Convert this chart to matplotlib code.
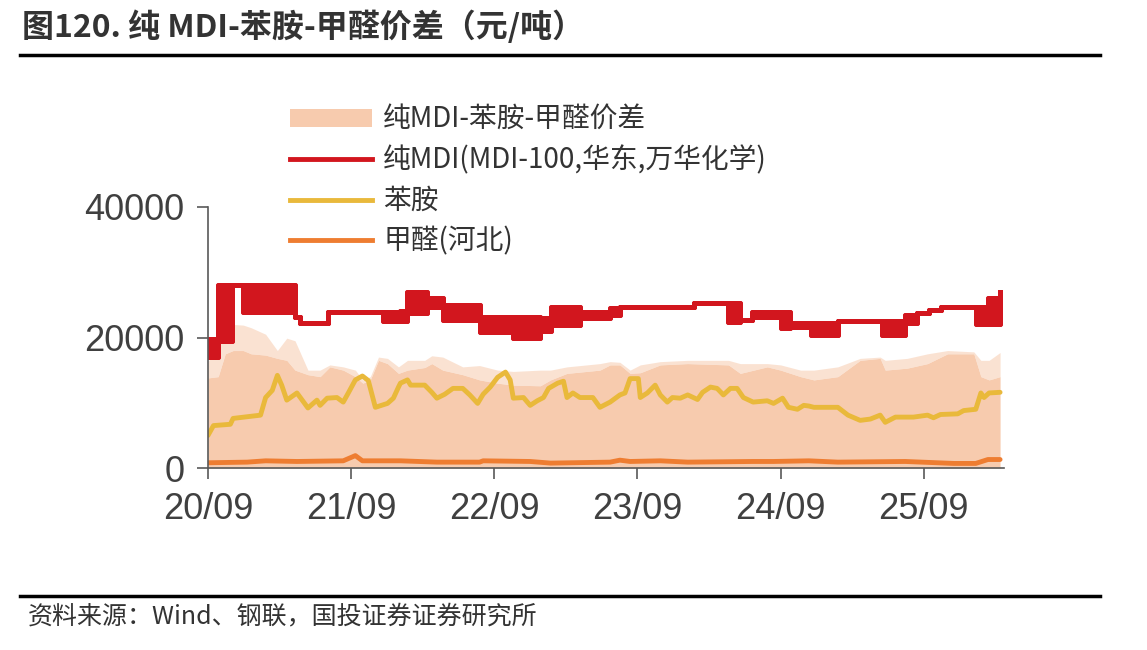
import matplotlib
matplotlib.use("Agg")
import matplotlib.pyplot as plt
import matplotlib.dates as mdates
from matplotlib.lines import Line2D
from matplotlib.patches import Patch
import pandas as pd

plt.rcParams['font.family'] = ['Noto Sans CJK SC', 'DejaVu Sans']

# 纯MDI (MDI-100, 华东, 万华化学): step segments, hi/lo envelope where price jumps back and forth
red_dates = ['2020-09-01', '2020-09-27', '2020-11-02', '2020-11-30', '2021-04-11', '2021-04-24',
             '2021-07-05', '2021-11-22', '2022-01-05', '2022-01-23', '2022-03-13', '2022-04-23',
             '2022-07-26', '2022-10-20', '2022-12-28', '2023-01-23', '2023-04-08', '2023-06-24',
             '2023-07-19', '2024-01-23', '2024-04-21', '2024-05-21', '2024-06-21', '2024-09-01',
             '2024-09-26', '2024-11-17', '2025-01-25', '2025-05-18', '2025-07-16', '2025-08-16',
             '2025-09-15', '2025-10-14', '2026-01-12', '2026-02-12', '2026-03-15']
red_hi = [19800, 28000, 28000, 28000, 23200, 22200, 23900, 23900, 24000, 27000, 26000, 25000,
          23100, 23100, 23000, 24700, 23900, 24500, 24700, 25300, 25300, 22700, 23900, 23900,
          22200, 22200, 22500, 22500, 23400, 23700, 24200, 24700, 24700, 26000, 27000]
red_lo = [17000, 19500, 28000, 23900, 23200, 22200, 23900, 22500, 22500, 23700, 24700, 22700,
          20800, 19900, 21000, 21900, 23000, 23400, 24700, 25300, 22300, 22700, 23100, 21500,
          21600, 20400, 22500, 20400, 22200, 23700, 24200, 24700, 22000, 22000, 27000]

# 苯胺
ani_dates = ['2020-09-01', '2020-09-15', '2020-10-28', '2020-11-04', '2021-01-13', '2021-01-26',
             '2021-02-12', '2021-02-25', '2021-03-08', '2021-03-21', '2021-04-16', '2021-05-14',
             '2021-06-06', '2021-06-14', '2021-07-02', '2021-07-27', '2021-08-12', '2021-08-25',
             '2021-09-12', '2021-09-30', '2021-10-15', '2021-11-02', '2021-12-03', '2021-12-18',
             '2021-12-31', '2022-01-05', '2022-01-23', '2022-01-31', '2022-03-08', '2022-03-26',
             '2022-04-08', '2022-04-28', '2022-05-19', '2022-06-13', '2022-07-01', '2022-07-21',
             '2022-08-04', '2022-08-22', '2022-09-10', '2022-09-30', '2022-10-12', '2022-10-20',
             '2022-11-15', '2022-12-02', '2022-12-20', '2023-01-05', '2023-01-18', '2023-02-10',
             '2023-02-25', '2023-03-06', '2023-03-21', '2023-04-08', '2023-05-11', '2023-05-29',
             '2023-06-24', '2023-07-19', '2023-08-01', '2023-08-14', '2023-09-04', '2023-09-09',
             '2023-09-27', '2023-10-17', '2023-10-30', '2023-11-17', '2023-11-30', '2023-12-20',
             '2024-01-08', '2024-02-02', '2024-02-15', '2024-03-06', '2024-03-23', '2024-04-08',
             '2024-04-26', '2024-05-13', '2024-05-29', '2024-06-23', '2024-07-29', '2024-08-14',
             '2024-09-06', '2024-09-21', '2024-10-14', '2024-10-30', '2024-11-12', '2024-11-25',
             '2025-01-25', '2025-02-20', '2025-03-23', '2025-04-18', '2025-05-13', '2025-05-26',
             '2025-06-21', '2025-08-06', '2025-09-11', '2025-09-26', '2025-10-14', '2025-11-27',
             '2025-12-12', '2026-01-12', '2026-01-25', '2026-02-02', '2026-02-15', '2026-03-15']
ani_vals = [5000, 6500, 6700, 7600, 8100, 10800, 11900, 14200, 12700, 10400, 11500, 9200,
            10400, 9600, 10700, 10800, 10100, 11500, 13500, 14100, 13400, 9300, 9900, 10700,
            12400, 13000, 13500, 12700, 12700, 11600, 10700, 11300, 12200, 12200, 11200, 9900,
            11300, 12400, 13900, 14700, 13500, 10700, 10800, 9600, 10300, 10800, 12200, 13000,
            13300, 10800, 11500, 10800, 10800, 9300, 10100, 11200, 11500, 13700, 13700, 10800,
            11500, 12700, 11200, 10100, 10800, 10700, 11200, 10500, 11600, 12400, 12200, 11200,
            12200, 12200, 10800, 10100, 10300, 9900, 10700, 9300, 9000, 9600, 9500, 9300,
            9300, 8100, 7300, 7500, 8100, 7000, 7800, 7800, 8100, 7700, 8200, 8300,
            8800, 9000, 11500, 10800, 11500, 11600]

# 甲醛(河北)
fa_dates = ['2020-09-01', '2020-12-10', '2021-01-26', '2021-04-16', '2021-08-12', '2021-09-12',
            '2021-09-30', '2022-01-05', '2022-04-08', '2022-07-26', '2022-08-04', '2022-12-02',
            '2023-01-23', '2023-06-24', '2023-07-19', '2023-08-14', '2023-10-30', '2024-01-08',
            '2024-06-23', '2024-08-14', '2024-11-12', '2025-01-25', '2025-07-16', '2025-11-17',
            '2026-01-12', '2026-02-12', '2026-03-15']
fa_vals = [800, 900, 1100, 1000, 1100, 1900, 1100, 1100, 900, 900, 1100, 1000,
           750, 900, 1200, 1000, 1100, 900, 1000, 1000, 1100, 900, 1000, 700,
           700, 1300, 1300]

# 纯MDI-苯胺-甲醛价差: dense body and top of the daily spikes
spr_dates = ['2020-09-01', '2020-09-27', '2020-10-15', '2020-11-04', '2020-11-30', '2020-12-20',
             '2021-01-26', '2021-02-25', '2021-03-21', '2021-04-11', '2021-05-14', '2021-06-14',
             '2021-07-09', '2021-08-12', '2021-09-12', '2021-10-01', '2021-10-20', '2021-11-10',
             '2021-12-03', '2021-12-31', '2022-01-23', '2022-03-08', '2022-03-26', '2022-04-23',
             '2022-06-13', '2022-07-26', '2022-09-10', '2022-10-20', '2022-12-28', '2023-01-23',
             '2023-03-06', '2023-05-29', '2023-06-24', '2023-07-19', '2023-08-14', '2023-09-09',
             '2023-10-30', '2024-01-08', '2024-04-21', '2024-05-21', '2024-07-29', '2024-09-01',
             '2024-10-22', '2024-11-25', '2025-01-25', '2025-03-23', '2025-05-13', '2025-05-26',
             '2025-07-21', '2025-09-11', '2025-11-01', '2026-01-07', '2026-01-25', '2026-02-15',
             '2026-03-15']
spr_body = [13800, 14000, 17500, 18000, 18000, 17500, 17300, 16800, 16500, 15000, 14300, 14000,
            15500, 15000, 14000, 13000, 13500, 16500, 16000, 14500, 15000, 15400, 16000, 15000,
            14300, 13500, 13000, 12700, 12600, 13500, 14500, 15000, 15800, 15800, 14500, 14600,
            15800, 16000, 15800, 14500, 15500, 15000, 14000, 13500, 14000, 16500, 16800, 15000,
            15300, 16000, 17500, 17500, 14000, 13500, 14000]
spr_spike = [16300, 19000, 21000, 22000, 21900, 21500, 20500, 18000, 19900, 19500, 15000, 15000,
             15800, 15500, 15000, 13500, 14000, 17000, 16800, 15500, 16500, 16500, 17200, 17000,
             15500, 15700, 15000, 14800, 15000, 15000, 15500, 16000, 16300, 16200, 15000, 15800,
             16300, 16500, 16500, 16000, 16000, 15800, 15000, 15000, 15500, 16800, 17000, 16500,
             16800, 17500, 18000, 17800, 16500, 16500, 17700]

tick_dates = ['2020-09-01', '2021-09-01', '2022-09-01', '2023-09-01', '2024-09-01', '2025-09-01']
y_ticks = [0, 20000, 40000]

c_red = '#D2161E'
c_yel = '#E9B93B'
c_ora = '#EE7D31'
c_fill = '#F7CBAE'
c_txt = '#333333'

fig = plt.figure(figsize=(11.47, 6.5), dpi=100)
ax = fig.add_axes([208 / 1147, 1 - 468 / 650, (1004 - 208) / 1147, (468 - 207) / 650])

sd = pd.to_datetime(spr_dates)
ax.fill_between(sd, 0, spr_body, color=c_fill, lw=0)
ax.fill_between(sd, spr_body, spr_spike, color=c_fill, alpha=0.55, lw=0)

ax.plot(pd.to_datetime(fa_dates), fa_vals, color=c_ora, lw=3.5, solid_capstyle='round')
ax.plot(pd.to_datetime(ani_dates), ani_vals, color=c_yel, lw=3.5, solid_capstyle='round')

rd = pd.to_datetime(red_dates)
ax.fill_between(rd, red_lo, red_hi, step='post', color=c_red, lw=3.6)
ax.step(rd, red_hi, where='post', color=c_red, lw=3.6)
ax.step(rd, red_lo, where='post', color=c_red, lw=3.6)

ax.set_ylim(0, 40000)
ax.set_xlim(pd.Timestamp('2020-09-01'), pd.Timestamp('2026-03-25'))
ax.set_yticks(y_ticks)
ax.set_xticks(pd.to_datetime(tick_dates))
ax.xaxis.set_major_formatter(mdates.DateFormatter('%y/%m'))

for s in ['top', 'right']:
    ax.spines[s].set_visible(False)
for s in ['left', 'bottom']:
    ax.spines[s].set_color('#595959')
    ax.spines[s].set_linewidth(1.2)
ax.tick_params(axis='both', length=8, width=1.2, color='#595959', labelcolor='#404040',
               labelsize=26)
ax.tick_params(axis='x', pad=9)
ax.tick_params(axis='y', pad=9)
for lab in ax.get_xticklabels() + ax.get_yticklabels():
    lab.set_family(['Liberation Sans', 'DejaVu Sans'])

handles = [Patch(facecolor=c_fill, edgecolor='none'),
           Line2D([], [], color=c_red, lw=3.5),
           Line2D([], [], color=c_yel, lw=3.5),
           Line2D([], [], color=c_ora, lw=3.5)]
labels = ['纯MDI-苯胺-甲醛价差', '纯MDI(MDI-100,华东,万华化学)', '苯胺', '甲醛(河北)']
fig.legend(handles, labels, loc='upper left', bbox_to_anchor=(290 / 1147, 1 - 105 / 650),
           frameon=False, fontsize=20, handlelength=2.95, handleheight=0.6, handletextpad=0.4,
           labelspacing=0.38, borderpad=0, borderaxespad=0, labelcolor=c_txt)

fig.text(22 / 1147, 1 - 27 / 650, '图120. 纯 MDI-苯胺-甲醛价差（元/吨）', fontsize=23,
         fontweight='bold', color=c_txt, va='center', ha='left')
fig.add_artist(Line2D([20 / 1147, 1100 / 1147], [1 - 55 / 650, 1 - 55 / 650], color='black', lw=2.5))
fig.add_artist(Line2D([20 / 1147, 1100 / 1147], [1 - 596 / 650, 1 - 596 / 650], color='black', lw=2.5))
fig.text(28 / 1147, 1 - 616 / 650, '资料来源：Wind、钢联，国投证券证券研究所', fontsize=18,
         color=c_txt, va='center', ha='left', fontweight='light')

fig.savefig('out.png', dpi=100)
